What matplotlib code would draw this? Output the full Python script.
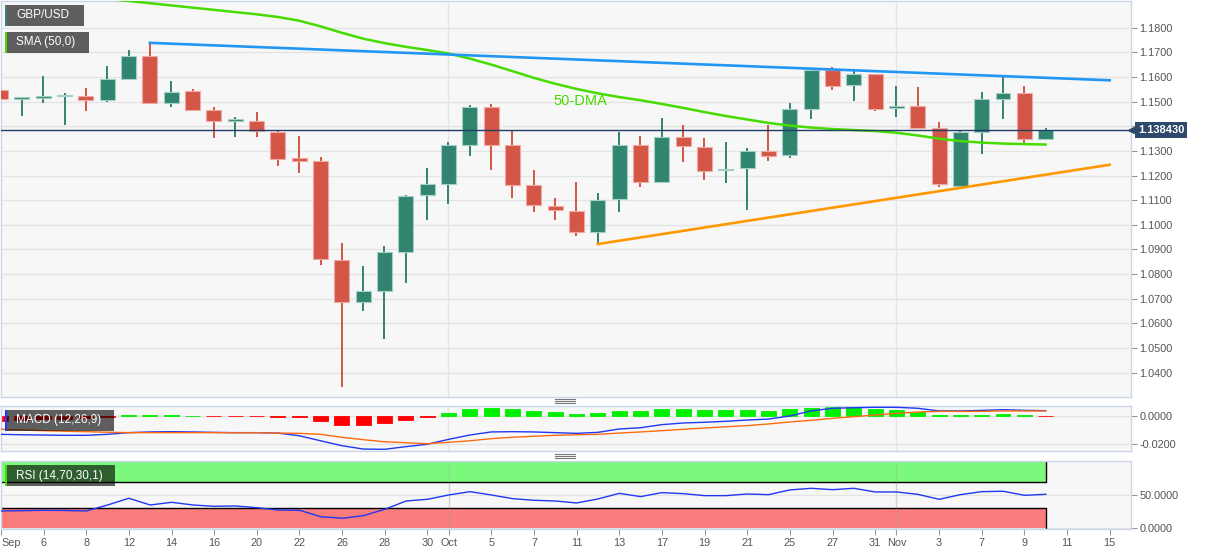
import numpy as np
import matplotlib
matplotlib.use('Agg')
import matplotlib.pyplot as plt
import matplotlib.transforms as mtransforms
from matplotlib.patches import Rectangle
from matplotlib.lines import Line2D

plt.rcParams['font.family'] = ['Liberation Sans', 'DejaVu Sans']

# ---- data (daily GBP/USD candles, Sep 2 .. Nov 10) ----
opens = [1.1546, 1.1512, 1.1517, 1.1523, 1.1525, 1.1506, 1.1591, 1.1686, 1.1494, 1.1545,
         1.1467, 1.1422, 1.1420, 1.1378, 1.1270, 1.1258, 1.0858, 1.0686, 1.0732, 1.0888,
         1.1120, 1.1167, 1.1326, 1.1477, 1.1326, 1.1163, 1.1078, 1.1057, 1.0969, 1.1105,
         1.1326, 1.1172, 1.1355, 1.1317, 1.1222, 1.1231, 1.1300, 1.1282, 1.1472, 1.1628,
         1.1567, 1.1612, 1.1476, 1.1481, 1.1392, 1.1159, 1.1376, 1.1511, 1.1534, 1.1349]
highs = [1.1586, 1.1519, 1.1606, 1.1536, 1.1557, 1.1647, 1.1709, 1.1739, 1.1586, 1.1553,
         1.1477, 1.1439, 1.1460, 1.1384, 1.1362, 1.1274, 1.0927, 1.0834, 1.0915, 1.1120,
         1.1232, 1.1335, 1.1488, 1.1492, 1.1384, 1.1224, 1.1110, 1.1176, 1.1130, 1.1378,
         1.1362, 1.1435, 1.1407, 1.1354, 1.1335, 1.1312, 1.1407, 1.1495, 1.1634, 1.1642,
         1.1626, 1.1614, 1.1565, 1.1560, 1.1419, 1.1381, 1.1541, 1.1601, 1.1565, 1.1392]
lows = [1.1493, 1.1441, 1.1494, 1.1404, 1.1461, 1.1498, 1.1590, 1.1493, 1.1477, 1.1461,
        1.1351, 1.1355, 1.1355, 1.1237, 1.1209, 1.0839, 1.0340, 1.0652, 1.0538, 1.0762,
        1.1021, 1.1083, 1.1278, 1.1224, 1.1111, 1.1054, 1.1018, 1.0953, 1.0922, 1.1054,
        1.1152, 1.1170, 1.1254, 1.1183, 1.1168, 1.1059, 1.1258, 1.1271, 1.1430, 1.1546,
        1.1502, 1.1461, 1.1437, 1.1389, 1.1152, 1.1145, 1.1289, 1.1430, 1.1330, 1.1349]
closes = [1.1511, 1.1516, 1.1522, 1.1528, 1.1506, 1.1591, 1.1686, 1.1494, 1.1541, 1.1467,
          1.1422, 1.1428, 1.1381, 1.1269, 1.1260, 1.0861, 1.0686, 1.0731, 1.0889, 1.1118,
          1.1166, 1.1323, 1.1477, 1.1326, 1.1163, 1.1079, 1.1059, 1.0969, 1.1102, 1.1323,
          1.1172, 1.1355, 1.1319, 1.1220, 1.1227, 1.1299, 1.1281, 1.1471, 1.1628, 1.1565,
          1.1612, 1.1472, 1.1482, 1.1393, 1.1166, 1.1376, 1.1511, 1.1536, 1.1349, 1.13843]

sma_start = 4
sma50 = [1.1927, 1.1917, 1.1909, 1.1900, 1.1891, 1.1882, 1.1873, 1.1864, 1.1855, 1.1844,
         1.1829, 1.1806, 1.1780, 1.1756, 1.1738, 1.1723, 1.1710, 1.1696, 1.1675, 1.1651,
         1.1624, 1.1597, 1.1573, 1.1552, 1.1534, 1.1519, 1.1506, 1.1491, 1.1475, 1.1458,
         1.1442, 1.1428, 1.1414, 1.1403, 1.1395, 1.1389, 1.1385, 1.1381, 1.1374, 1.1363,
         1.1350, 1.1340, 1.1334, 1.1330, 1.1328, 1.1326]

# trend lines: (candle index, price)
resist_x = [7, 52]
resist_y = [1.1739, 1.1587]
support_x = [28, 52]
support_y = [1.0922, 1.1244]

macd_line = [-0.0133, -0.0136, -0.0138, -0.0140, -0.0140, -0.0133, -0.0121, -0.0116, -0.0114, -0.0116,
             -0.0119, -0.0121, -0.0121, -0.0124, -0.0143, -0.0179, -0.0214, -0.0238, -0.0240, -0.0221,
             -0.0204, -0.0169, -0.0138, -0.0116, -0.0114, -0.0116, -0.0121, -0.0126, -0.0119, -0.0095,
             -0.0086, -0.0064, -0.0052, -0.0047, -0.0040, -0.0031, -0.0024, -0.0002, 0.0034, 0.0053,
             0.0057, 0.0060, 0.0060, 0.0053, 0.0034, 0.0034, 0.0038, 0.0043, 0.0038, 0.0036]
signal_line = [-0.0097, -0.0102, -0.0107, -0.0111, -0.0114, -0.0118, -0.0121, -0.0121, -0.0121, -0.0121,
               -0.0121, -0.0122, -0.0122, -0.0124, -0.0126, -0.0133, -0.0154, -0.0171, -0.0186, -0.0193,
               -0.0200, -0.0190, -0.0179, -0.0164, -0.0154, -0.0147, -0.0140, -0.0136, -0.0133, -0.0124,
               -0.0116, -0.0107, -0.0097, -0.0088, -0.0079, -0.0071, -0.0059, -0.0045, -0.0033, -0.0019,
               -0.0007, 0.0005, 0.0017, 0.0026, 0.0031, 0.0031, 0.0031, 0.0034, 0.0034, 0.0034]
macd_hist = [-0.0035, -0.0030, -0.0025, -0.0020, -0.0015, -0.0008, 0.0003, 0.0003, 0.0003, 0.0001,
             -0.0002, -0.0003, -0.0005, -0.0008, -0.0010, -0.0038, -0.0067, -0.0067, -0.0052, -0.0031,
             -0.0010, 0.0019, 0.0045, 0.0052, 0.0045, 0.0036, 0.0026, 0.0014, 0.0019, 0.0036,
             0.0036, 0.0045, 0.0048, 0.0043, 0.0038, 0.0040, 0.0036, 0.0048, 0.0057, 0.0062,
             0.0062, 0.0050, 0.0040, 0.0026, 0.0003, 0.0002, 0.0007, 0.0010, 0.0004, -0.0002]

rsi = [25.5, 26.0, 26.6, 26.3, 25.5, 34.7, 45.0, 34.7, 38.8, 34.7,
       32.7, 33.2, 30.6, 27.0, 26.6, 16.8, 14.4, 18.4, 28.1, 40.8,
       43.4, 50.0, 55.1, 50.0, 44.4, 41.9, 40.8, 37.8, 43.9, 52.5,
       47.5, 53.6, 52.0, 49.0, 49.0, 51.5, 50.5, 57.7, 60.2, 58.1,
       60.2, 54.6, 54.6, 51.0, 43.4, 50.5, 55.1, 55.7, 49.5, 51.0]
rsi_upper, rsi_lower = 70, 30

tick_idx = [0, 2, 4, 6, 8, 10, 12, 14, 16, 18, 20, 21, 23, 25, 27, 29, 31, 33,
            35, 37, 39, 41, 42, 44, 46, 48, 50, 52]
tick_text = ['Sep', '6', '8', '12', '14', '16', '20', '22', '26', '28', '30', 'Oct',
             '5', '7', '11', '13', '17', '19', '21', '25', '27', '31', 'Nov',
             '3', '7', '9', '11', '15']
month_idx = [21, 42]
price_ticks = [1.04, 1.05, 1.06, 1.07, 1.08, 1.09, 1.10, 1.11, 1.12, 1.13,
               1.14, 1.15, 1.16, 1.17, 1.18]

# ---- styling ----
UP, DOWN = '#31846f', '#d35646'
UP_EDGE, DOWN_EDGE = '#a3cfc4', '#f0aaa2'
PANEL_BG = '#f7f7f7'
SPINE = '#ccd6eb'
GRID = '#e4e4e4'
TXT = '#555555'
FS = 7.8

W, H = 1207, 555
fig = plt.figure(figsize=(W / 100, H / 100), dpi=100, facecolor='white')


def px_rect(x0, y0, x1, y1):
    return [x0 / W, 1 - y1 / H, (x1 - x0) / W, (y1 - y0) / H]


ax = fig.add_axes(px_rect(1, 0.5, 1131, 397))
ax2 = fig.add_axes(px_rect(1, 405.7, 1131, 451))
ax3 = fig.add_axes(px_rect(1, 460.7, 1131, 529))

xlim = (0.02, 53.0)
for a in (ax, ax2, ax3):
    a.set_facecolor(PANEL_BG)
    a.set_xlim(*xlim)
    for s in a.spines.values():
        s.set_color(SPINE)
        s.set_linewidth(1)
    a.yaxis.tick_right()
    a.tick_params(axis='y', length=4, color='#999999', labelsize=FS,
                  labelcolor=TXT, pad=2)
    a.set_axisbelow(True)
    for m in month_idx:
        a.axvline(m, color=GRID, lw=1, zorder=0.6)

ax.tick_params(axis='x', bottom=False, labelbottom=False)
ax2.tick_params(axis='x', bottom=False, labelbottom=False)

# ---- main price panel ----
idx = np.arange(len(opens))
o = np.array(opens)
c = np.array(closes)
up = c >= o
cols = np.where(up, UP, DOWN)
edges = np.where(up, UP_EDGE, DOWN_EDGE)
ax.vlines(idx, lows, highs, colors=cols, lw=1.4, zorder=2)
body_h = np.maximum(np.abs(c - o), 0.0006)
ax.bar(idx, body_h, bottom=np.minimum(o, c), width=0.7, color=cols,
       edgecolor=edges, linewidth=0.8, zorder=3)

ax.plot(np.arange(sma_start, sma_start + len(sma50)), sma50, color='#46dc00',
        lw=1.8, zorder=4)
ax.plot(resist_x, resist_y, color='#2196f3', lw=1.9, zorder=4)
ax.plot(support_x, support_y, color='#ff9800', lw=1.9, zorder=4)

last = closes[-1]
ax.axhline(last, color='#213f66', lw=1, zorder=5)

ax.set_ylim(1.0301, 1.1911)
ax.set_yticks(price_ticks)
# the 1.1400 label sits under the last-price tag, as in the source chart
ax.set_yticklabels(['' if abs(v - last) < 0.004 else f'{v:.4f}' for v in price_ticks])
ax.grid(axis='y', color=GRID, lw=1)

ax.text(27.17, 1.1504, '50-DMA', color='#46dc00', fontsize=10.5,
        ha='center', va='center', zorder=6)

trans = mtransforms.blended_transform_factory(ax.transAxes, ax.transData)
ax.plot([1.0], [last], marker='<', ms=5, color='#2d4a6b', transform=trans,
        clip_on=False, zorder=20)
ax.annotate(f'{last:.6f}', xy=(1.0, last), xycoords=trans, xytext=(5.0, 0),
            textcoords='offset points', ha='left', va='center', color='white',
            fontsize=8, fontweight='bold', zorder=21, annotation_clip=False,
            bbox=dict(boxstyle='square,pad=0.28', fc='#2d4a6b', ec='none'))

# ---- MACD panel ----
hist = np.array(macd_hist)
hcols = np.where(hist >= 0, '#00ee00', '#ff0000')
ax2.bar(idx, hist, width=0.7, color=hcols, edgecolor=hcols, linewidth=0.6, zorder=2)
ax2.plot(idx, macd_line, color='#2038f0', lw=1, zorder=3)
ax2.plot(idx, signal_line, color='#ff6a10', lw=1, zorder=3)
ax2.set_ylim(-0.0252, 0.00714)
ax2.set_yticks([0.0, -0.02])
ax2.set_yticklabels(['0.0000', '-0.0200'])
ax2.grid(axis='y', color=GRID, lw=1)

# ---- RSI panel ----
ax3.set_ylim(-2.0, 102.4)
band_left = xlim[0] - 1
band_right = idx[-1]
ax3.add_patch(Rectangle((band_left, rsi_upper), band_right - band_left, 100 - rsi_upper,
                        fc='#7cf97c', ec='none', zorder=1))
ax3.add_patch(Rectangle((band_left, 0), band_right - band_left, rsi_lower,
                        fc='#fb7c7c', ec='none', zorder=1))
ax3.plot([band_left, band_right, band_right], [rsi_upper, rsi_upper, 100],
         color='black', lw=1, zorder=2)
ax3.plot([band_left, band_right, band_right], [rsi_lower, rsi_lower, 0],
         color='black', lw=1, zorder=2)
for m in month_idx:
    ax3.axvline(m, color='#999999', lw=1, alpha=0.25, zorder=2)
ax3.plot(idx, rsi, color='#2038f0', lw=1, zorder=3)
ax3.set_yticks([0, 50])
ax3.set_yticklabels(['0.0000', '50.0000'])
ax3.grid(axis='y', color=GRID, lw=1)

ax3.set_xticks(tick_idx)
ax3.set_xticklabels(tick_text)
ax3.tick_params(axis='x', length=4, color='#999999', labelsize=FS,
                labelcolor=TXT, pad=2.5)
ax3.get_xticklabels()[0].set_horizontalalignment('left')


# ---- overlay label boxes ----
def label_box(x0, y0, x1, y1, bar_color, text):
    fig.add_artist(Rectangle((x0 / W, 1 - y1 / H), (x1 - x0) / W, (y1 - y0) / H,
                             transform=fig.transFigure, fc='black', alpha=0.62,
                             ec='none', zorder=10))
    fig.add_artist(Rectangle((x0 / W, 1 - y1 / H), 2.2 / W, (y1 - y0) / H,
                             transform=fig.transFigure, fc=bar_color,
                             ec='none', zorder=11))
    fig.text(16 / W, 1 - (y0 + y1) / 2 / H, text, color='white', fontsize=8.5,
             ha='left', va='center', zorder=12)


label_box(5, 5, 84, 26, UP, 'GBP/USD')
label_box(5, 32, 89, 53, '#46dc00', 'SMA (50,0)')
label_box(5, 410, 114, 431, '#1a3cff', 'MACD (12,26,9)')
label_box(5, 465, 115, 486, '#46dc00', 'RSI (14,70,30,1)')

# panel resize handles
for yc in (401, 456):
    for dy in (-1.7, 0, 1.7):
        fig.add_artist(Line2D([555 / W, 575 / W], [1 - (yc + dy) / H] * 2,
                              transform=fig.transFigure, color='#777777', lw=0.8))

fig.savefig('out.png', dpi=100, facecolor='white')
